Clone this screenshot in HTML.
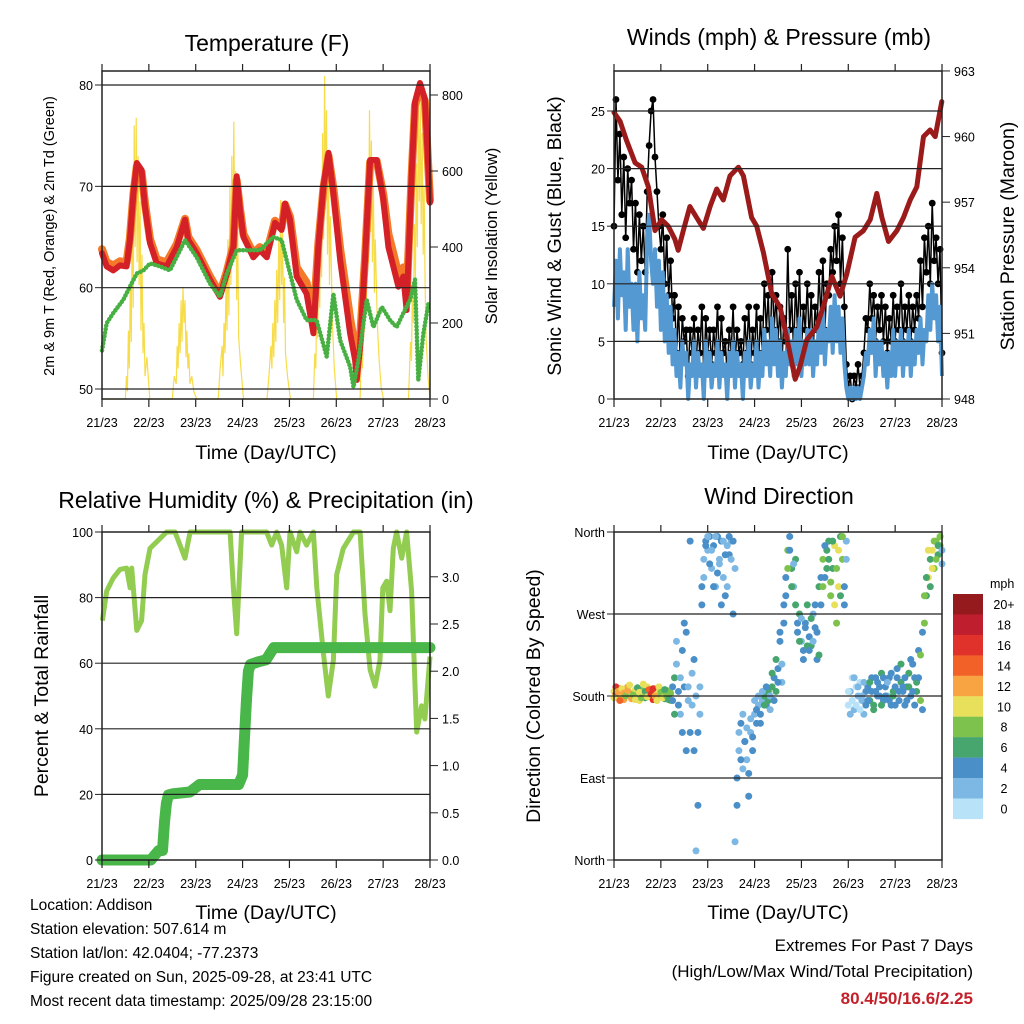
<!DOCTYPE html>
<html><head><meta charset="utf-8">
<style>
html,body{margin:0;padding:0;background:#fff;}
svg{display:block;font-family:"Liberation Sans",sans-serif;}
.t{font-size:12.5px;fill:#000;}
</style></head>
<body>
<svg id="chart" width="1024" height="1024" viewBox="0 0 1024 1024" xmlns="http://www.w3.org/2000/svg">
<rect width="1024" height="1024" fill="#fff"/>
<g id="g1"></g>
<g id="g2"></g>
<g id="g3"></g>
<g id="g4"></g>
<text x="267" y="51" font-size="23" text-anchor="middle">Temperature (F)</text>
<text x="779" y="45" font-size="23" text-anchor="middle">Winds (mph) &amp; Pressure (mb)</text>
<text x="266" y="508" font-size="23" text-anchor="middle">Relative Humidity (%) &amp; Precipitation (in)</text>
<text x="779" y="504" font-size="23" text-anchor="middle">Wind Direction</text>
<text transform="translate(54,236) rotate(-90)" font-size="14.5" text-anchor="middle">2m &amp; 9m T (Red, Orange) &amp; 2m Td (Green)</text>
<text transform="translate(497,236) rotate(-90)" font-size="16.5" text-anchor="middle">Solar Insolation (Yellow)</text>
<text transform="translate(561,236) rotate(-90)" font-size="19.5" text-anchor="middle">Sonic Wind &amp; Gust (Blue, Black)</text>
<text transform="translate(1014,236) rotate(-90)" font-size="19.5" text-anchor="middle">Station Pressure (Maroon)</text>
<text transform="translate(48,696) rotate(-90)" font-size="19.5" text-anchor="middle">Percent &amp; Total Rainfall</text>
<text transform="translate(540,696) rotate(-90)" font-size="19.5" text-anchor="middle">Direction (Colored By Speed)</text>
<text x="266" y="459" font-size="19.5" text-anchor="middle">Time (Day/UTC)</text>
<text x="778" y="459" font-size="19.5" text-anchor="middle">Time (Day/UTC)</text>
<text x="266" y="919" font-size="19.5" text-anchor="middle">Time (Day/UTC)</text>
<text x="778" y="919" font-size="19.5" text-anchor="middle">Time (Day/UTC)</text>
<g font-size="15.5">
<text x="30" y="910">Location: Addison</text>
<text x="30" y="934">Station elevation: 507.614 m</text>
<text x="30" y="958">Station lat/lon: 42.0404; -77.2373</text>
<text x="30" y="982">Figure created on Sun, 2025-09-28, at 23:41 UTC</text>
<text x="30" y="1006">Most recent data timestamp: 2025/09/28 23:15:00</text>
</g>
<g font-size="17" text-anchor="end">
<text x="973" y="951">Extremes For Past 7 Days</text>
<text x="973" y="977">(High/Low/Max Wind/Total Precipitation)</text>
<text x="973" y="1004" fill="#c3202a" font-weight="bold">80.4/50/16.6/2.25</text>
</g>
<g id="cbar"></g>
</svg>
<script>
// ---- data ----
const dayLabels=["21/23","22/23","23/23","24/23","25/23","26/23","27/23","28/23"];
const tempH=[0,2.4,5.8,9.2,12.6,14.3,16.1,17.8,20.3,22,24.6,28,33.1,38.3,42.5,44.2,48.5,55.3,60.4,63.9,67.3,69,70.7,72.4,77.5,80.9,84.4,88.6,92,93.8,96.3,99.7,104.8,108.3,110.8,113.4,116,118.5,122,127.1,129.7,130.5,132.2,134.7,137.3,140.7,144.1,146.7,149.2,151.8,154.4,156,158.6,160.3,162.9,165.4,168];
const temp2m=[63.4,62.1,61.7,62.2,62.1,64.7,69.3,72.3,71.6,68,64.4,62.4,62.1,64,66.7,64.7,63.4,60.8,59.1,61.4,64,71,67.7,65,63,63.7,63,66.4,65.7,68.3,66.7,61.1,59.4,55.5,64,70,73.3,69.3,62.7,55.5,52.8,50.9,54.2,62.7,72.6,72.6,68.7,64,62.1,60.1,61.1,57.8,71,78.3,80.2,78.6,68.4];
const temp9m=[63.8,62.5,62.2,62.6,62.5,64.9,69.2,72,71.4,68.3,64.8,62.8,62.5,64.3,66.8,65,63.7,61.1,59.4,61.6,64.2,70.6,67.8,65.3,63.4,64,63.5,66.6,66,68.2,67,62,60.5,56.8,64.3,69.8,73,69.8,63.8,57,54,52.2,55,62.9,72.4,72.5,69.2,65.3,63.4,61.3,62,59,71,78,79.8,78.4,68.6];
const tdH=[0,2.4,5.8,10.9,14.3,17.8,21.2,24.6,29.7,34.8,40,42.5,48.5,55.3,60.4,63.9,69,74.1,80.9,87.7,92,94.6,99.7,104.8,109.9,115.1,118.5,122,127.1,128.8,131.3,135.6,139,143.3,147.5,150.9,154.4,157.8,160.3,162,164.6,167.2];
const dew2m=[53.8,56.5,57.5,58.8,60.1,61.4,61.7,62.4,62.1,61.7,63.7,64.7,63,60.4,59.1,61.4,63.7,63.7,63.7,65,64.7,62.7,58.8,56.8,56.8,53.2,59.4,54.8,52.2,50.2,52.8,58.8,56.1,58.1,56.8,56.1,57.5,58.8,60.8,50.9,55.5,58.4];
const solarH=[0,12,12.5,13,13.5,14,14.5,15,15.5,16,16.5,17,17.5,18,18.5,19,19.5,20,20.5,21,21.5,22,23,24.5,36,37,38,38.5,39,39.5,40,40.5,41,41.5,42,42.5,43,43.5,44,44.5,45,46,47,48.5,59.5,60.5,61.5,62,62.5,63,63.5,64,64.5,65,65.5,66,66.5,67,67.5,68,68.5,69,69.5,70,71,72.5,84.5,85.5,86.5,87,87.5,88,88.5,89,89.5,90,90.5,91,91.5,92,92.5,93,93.5,94,95,96.5,108.3,109,109.5,110,110.5,111,111.5,112,112.5,113,113.5,114,114.5,115,115.5,116,116.5,117,118,119,120.2,132.2,133,133.5,134,134.5,135,135.5,136,136.5,137,137.5,138,138.5,139,139.5,140,141,142,143,144.2,157,158,158.5,159,159.5,160,160.5,161,161.5,162,162.5,163,163.5,164,164.5,165,165.5,166,167,168];
const solarV=[0,0,60,20,180,80,300,150,560,240,720,400,740,360,640,300,520,180,380,120,200,60,110,0,0,60,40,140,80,200,120,260,150,295,200,260,110,180,80,120,40,60,20,0,0,80,140,60,200,120,300,180,420,220,560,300,640,380,730,420,600,260,440,160,90,0,0,60,140,80,200,110,260,150,340,200,420,260,524,300,440,200,320,120,60,0,0,120,80,260,160,400,240,560,320,700,420,850,500,760,380,620,300,480,200,80,0,0,140,80,280,180,420,260,600,360,760,440,680,360,560,280,420,200,100,30,0,0,150,100,300,200,460,320,620,400,760,520,790,460,700,380,560,300,160,60,0];
const windV=[8,12,7,13,9,11,6,13,8,10, 6,10,5,11,7,9,6,14,16,12, 10,13,8,12,6,11,5,9,4,8, 3,6,2,4,1,5,3,4,0,3, 2,5,1,4,2,3,0,5,2,4, 1,3,2,5,1,4,2,3,0,4, 2,5,1,4,2,3,0,4,2,5, 1,3,2,5,1,4,2,6,3,5, 2,7,3,6,2,5,1,4,2,6, 3,5,2,6,3,7,2,5,3,6, 3,6,2,5,3,7,4,8,3,6, 5,8,4,9,5,8,4,7,3,1, 0,1,0,1,0,1,0,1,2,4, 3,6,4,7,2,5,3,5,2,4, 1,4,2,6,2,5,3,6,2,5, 3,6,2,5,3,6,4,7,3,6, 5,9,6,10,7,9,5,8,2];
const gustV=[15,26,19,23,16,21,14,20,17,19, 13,17,11,16,12,15,11,18,22,25, 26,21,18,15,13,16,10,14,9,12, 7,9,4,8,3,7,5,6,2,6, 4,7,3,6,4,8,2,7,4,6, 3,6,4,8,3,7,4,5,2,6, 4,8,3,6,4,5,3,7,4,8, 3,6,4,8,3,7,4,10,6,9, 4,11,6,9,5,8,3,7,5,13, 6,9,4,10,6,11,4,8,6,10, 5,9,4,8,6,11,7,12,6,10, 9,13,11,15,12,16,10,14,8,3, 1,2,0,2,1,3,1,2,4,7, 6,10,7,9,5,8,6,9,5,8, 4,7,5,9,5,8,6,10,5,8, 6,9,5,8,6,9,7,12,8,14, 11,15,10,17,12,14,10,13,4];
const presH=[0,3.1,6.5,10.8,14.2,17.6,21,24.4,27.8,31.2,32.9,35.5,38.9,42.3,45.8,49.2,52.6,56,59.4,63.7,66.3,70.5,73.1,76.5,80.8,85.1,88.5,92.8,95.3,98.7,103.9,108.1,111.6,115.8,119.2,123.5,127.8,131.2,134.6,137.2,140.6,144.9,148.3,151.7,155.1,158.5,161.9,164.5,167.9];
const presV=[961.1,960.7,959.8,958.8,958.6,957.7,955.7,956.2,955.9,955.3,954.8,955.7,956.8,956.3,955.8,956.8,957.6,957.1,958.2,958.6,958.2,956.3,955.9,954.7,952.8,952.2,950.8,948.9,949.5,950.7,951.3,952.5,953.6,952.7,953.7,955.4,955.7,956.2,957.4,956.3,955.2,955.7,956.3,957.1,957.7,960,960.3,960,961.6];
const rhH=[0.2,2.4,5.8,9.2,12.6,14.4,15.2,17.8,20.3,22,24.6,28,33.1,37.4,42.5,45.1,65.6,67.3,69,71.5,84.3,86.9,89.5,92,94.6,96.3,99.7,101.4,104.8,108.3,110,113.4,115.9,118.5,120.2,123.6,128.8,132.2,134.7,137.3,139.9,142.4,143.8,145.8,147.5,149.2,150.9,153.5,156,158.6,161.2,163.7,165.4,168];
const rhV=[73,82,86,88.6,89,83,89,70,73,87,95,97,100,100,92,100,100,83,69,100,100,96,100,96,83,100,94,100,96,100,83,63,50,61,87,95,100,100,75,58,53,61,83,85,76,95,100,92,100,82,39,47,43,62];
const precH=[0,25,27,29,31,32,33,34,36,45,50,70,72,73,74,75,76,80,84,88,168];
const precV=[0,0,0.05,0.1,0.1,0.4,0.6,0.69,0.7,0.72,0.8,0.8,0.9,1.3,1.7,2.0,2.07,2.1,2.12,2.25,2.25];
const dir1=[185,182,178,188,180,176,184,190,181,179, 183,187,180,175,186,182,178,190,184,180, 176,188,182,185,179,183,177,186,181,175, 190,200,215,170,160,230,190,250,175,140, 205,120,180,60,160,300,330,350,340,355, 320,345,300,355,330,350,310,290,345,335, 350,270,320,60,120,150,100,130,110,95, 140,120,160,150,170,150,175,180,170,185, 165,190,200,185,210,240,195,260,310,340, 355,320,300,330,250,270,240,230,260,280, 245,235,270,255,220,300,280,330,310,340, 350,290,320,345,260,300,355,330,280,350, 170,185,200,165,190,180,195,175,160,185, 190,175,200,170,185,195,180,205,175,190, 180,200,170,185,190,210,175,195,185,170, 190,205,180,215,200,185,230,175,165,260, 290,310,330,340,320,350,335,345,325];
const dir2=[178,190,185,175,188,183,180,186,192,177, 181,176,189,184,178,193,185,179,187,182, 188,180,175,190,184,178,187,180,176,183, 175,160,240,185,200,140,260,120,190,350, 170,220,10,140,190,280,310,345,355,325, 340,300,355,315,325,280,350,335,300,355, 330,350,20,90,140,110,160,130,145,70, 155,135,175,165,180,160,185,170,190,175, 180,205,175,220,195,250,215,280,290,320, 340,300,325,280,260,240,265,220,255,235, 230,265,240,280,250,225,310,300,345,320, 330,305,350,280,320,340,290,355,300,330, 185,160,175,200,170,190,165,180,195,170, 175,195,185,165,200,180,190,170,200,180, 195,175,205,180,170,200,185,215,190,200, 175,190,220,185,170,195,200,225,250,290, 310,340,300,320,350,330,345,355,340];
const cbLabels=["20+","18","16","14","12","10","8","6","4","2","0"];
const cbColors=["#951a1d","#be1e2d","#e0322a","#f26228","#f8a443","#e8e05a","#7cc24c","#47a56e","#4a8fc8","#7db8e4","#b8e2f8"];
const tempTicks=[50,60,70,80], solarTicks=[0,200,400,600,800];
const windTicks=[0,5,10,15,20,25], presTicks=[948,951,954,957,960,963];
const rhTicks=[0,20,40,60,80,100], precTicks=[0,0.5,1,1.5,2,2.5,3];
const dirTicks=[0,90,180,270,360], dirNames=["North","East","South","West","North"];

// ---- helpers ----
const NS="http://www.w3.org/2000/svg";
function mk(parent,tag,attrs){const e=document.createElementNS(NS,tag);for(const k in attrs)e.setAttribute(k,attrs[k]);parent.appendChild(e);return e;}
const xS=(x0)=>h=>x0+h/168*328;
const X1=xS(102), X2=xS(614);
const yT=v=>389-(v-50)*10.133, ySol=v=>399-v*0.38;
const yW=v=>399-v*11.52, yPr=v=>399-(v-948)*21.87;
const yRH=v=>860-v*3.28, yPc=v=>860-v*94.4;
const yD=v=>860-v*328/360;
function pts(hs,vs,xf,yf){return hs.map((h,i)=>xf(h).toFixed(1)+","+yf(vs[i]).toFixed(1)).join(" ");}
const hours=windV.map((_,i)=>i);

function frame(g,x0,top,bot,xf,leftT,lf,leftLab,rightT,rf,rightLab,grid){
  for(const v of grid){const y=lf(v);const l=mk(g,"line",{x1:x0,x2:x0+328,y1:y,y2:y,stroke:"#222","stroke-width":1.2});
    
    }
  const r=mk(g,"rect",{x:x0,y:top,width:328,height:bot-top,fill:"none",stroke:"#222","stroke-width":1.5});
  
  
  dayLabels.forEach((d,i)=>{const x=xf(i*24);
    mk(g,"line",{x1:x,x2:x,y1:bot,y2:bot+8,stroke:"#222","stroke-width":1.2});
    mk(g,"line",{x1:x,x2:x,y1:top,y2:top-7,stroke:"#222","stroke-width":1.2});
    const t=mk(g,"text",{x:x,y:bot+28,"text-anchor":"middle",class:"t"});t.textContent=d;
    
    });
  leftT.forEach((v,i)=>{const y=lf(v);mk(g,"line",{x1:x0-7,x2:x0,y1:y,y2:y,stroke:"#222"});
    const t=mk(g,"text",{x:x0-9,y:y+5,"text-anchor":"end",class:"t"});t.textContent=leftLab(v,i);
    
    });
  if(rightT)rightT.forEach((v,i)=>{const y=rf(v);mk(g,"line",{x1:x0+328,x2:x0+336,y1:y,y2:y,stroke:"#222"});
    const t=mk(g,"text",{x:x0+340,y:y+5,"text-anchor":"start",class:"t"});t.textContent=rightLab(v,i);
    
    });
}

// ---- panel 1 ----
const g1=document.getElementById('g1');
const sol=mk(g1,"polyline",{points:pts(solarH,solarV,X1,ySol),fill:"none",stroke:"#f7dc4a","stroke-width":1.2});


const o9=mk(g1,"polyline",{points:pts(tempH,temp9m,X1,yT),fill:"none",stroke:"#f47a2a","stroke-width":8,"stroke-linejoin":"round","stroke-linecap":"round"});


const r2=mk(g1,"polyline",{points:pts(tempH,temp2m,X1,yT),fill:"none",stroke:"#d42027","stroke-width":6,"stroke-linejoin":"round","stroke-linecap":"round"});


const td=mk(g1,"polyline",{points:pts(tdH,dew2m,X1,yT),fill:"none",stroke:"#48b043","stroke-width":2,"stroke-linejoin":"round"});


const tdDots=mk(g1,"polyline",{points:pts(tdH,dew2m,X1,yT),fill:"none",stroke:"#48b043","stroke-width":4.5,"stroke-dasharray":"0.1 3.5","stroke-linecap":"round","stroke-linejoin":"round"});


frame(g1,102,71,399,X1,tempTicks,yT,v=>String(v),solarTicks,ySol,v=>String(v),tempTicks);

// ---- panel 2 ----
const g2=document.getElementById('g2');
const gl=mk(g2,"polyline",{points:pts(hours,gustV,X2,yW),fill:"none",stroke:"#000","stroke-width":1.5});


hours.forEach((h,i)=>{const c=mk(g2,"circle",{cx:X2(h),cy:yW(gustV[i]),r:3.4,fill:"#000"});
  
  });
const wl=mk(g2,"polyline",{points:pts(hours,windV,X2,yW),fill:"none",stroke:"#5499d2","stroke-width":4,"stroke-linejoin":"round"});


const pl=mk(g2,"polyline",{points:pts(presH,presV,X2,yPr),fill:"none",stroke:"#9b1b1b","stroke-width":5,"stroke-linejoin":"round","stroke-linecap":"round"});


frame(g2,614,71,399,X2,windTicks,yW,v=>String(v),presTicks,yPr,v=>String(v),windTicks.slice(1));

// ---- panel 3 ----
const g3=document.getElementById('g3');
const rl=mk(g3,"polyline",{points:pts(rhH,rhV,X1,yRH),fill:"none",stroke:"#92cc50","stroke-width":5,"stroke-linejoin":"round"});


const pc=mk(g3,"polyline",{points:pts(precH,precV,X1,yPc),fill:"none",stroke:"#48b648","stroke-width":11,"stroke-linejoin":"round","stroke-linecap":"round"});


frame(g3,102,532,860,X1,rhTicks,yRH,v=>String(v),precTicks,yPc,v=>v.toFixed(1),rhTicks.slice(1,5));

// ---- panel 4 ----
const g4=document.getElementById('g4');
function spdColor(s){return cbColors[10-Math.min(10,Math.max(0,Math.round(s/2)))];}
[dir1,dir2].forEach(arr=>{hours.forEach((h,i)=>{const s=gustV[i]*0.6;
  const c=mk(g4,"circle",{cx:X2(h),cy:yD(arr[i]),r:3.5,fill:spdColor(s)});
  
  });});
frame(g4,614,532,860,X2,dirTicks,yD,(v,i)=>dirNames[i],null,null,null,dirTicks.slice(1,4));

// ---- colorbar ----
const cb=document.getElementById('cbar');
const ut=mk(cb,"text",{x:990,y:588,class:"t","font-size":14});ut.textContent="mph";


cbColors.forEach((c,i)=>{const y=594+i*20.45;
  const r=mk(cb,"rect",{x:953,y:y,width:30,height:20.6,fill:c});
  
  
  const t=mk(cb,"text",{x:1004,y:y+15,"text-anchor":"middle",class:"t","font-size":14});t.textContent=cbLabels[i];
  
  });
</script>
</body></html>
